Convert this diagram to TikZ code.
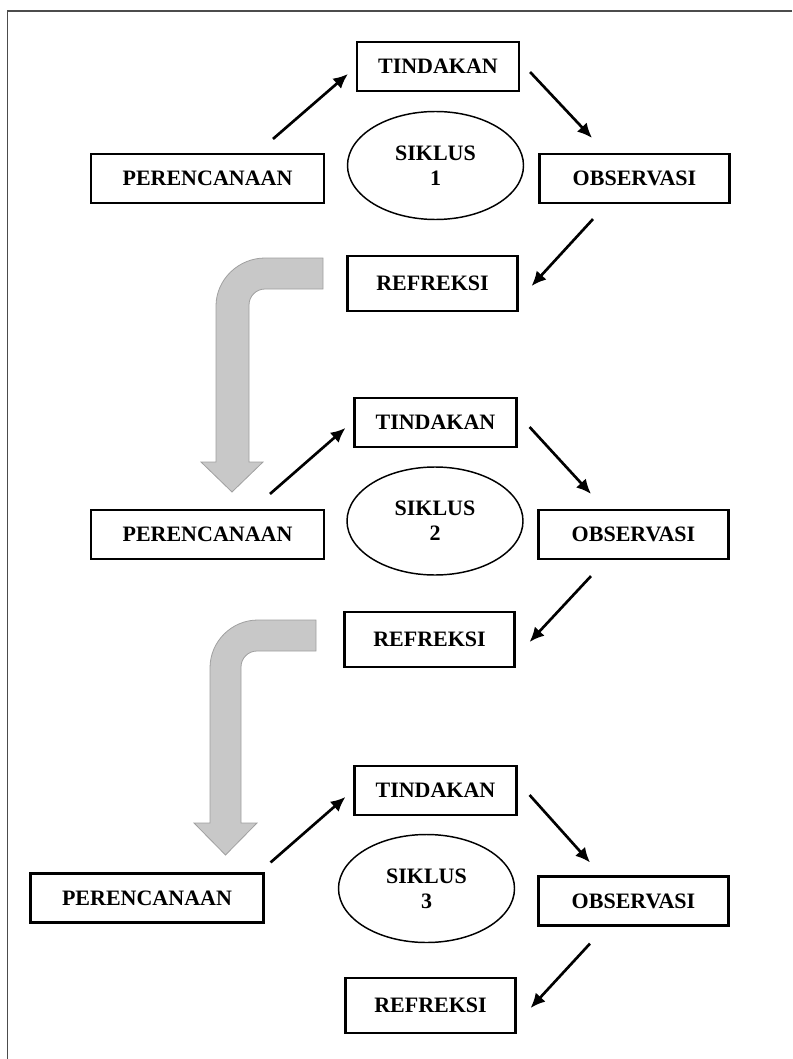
\documentclass[tikz,border=0pt]{standalone}
\usepackage{fontspec}
\setmainfont{Liberation Serif}
\usetikzlibrary{arrows.meta,shapes.geometric}

\begin{document}
\begin{tikzpicture}[x=0.75pt,y=-0.75pt,
    kotak/.style={draw, line width=1.6pt, inner sep=0pt, minimum height=36.75pt, font=\bfseries\fontsize{16.5}{19}\selectfont},
    tindakan/.style={kotak, minimum width=121.5pt},
    rencana/.style={kotak, minimum width=174.75pt},
    observasi/.style={kotak, minimum width=142.5pt},
    refleksi/.style={kotak, minimum width=127.5pt, minimum height=41.25pt},
    siklus/.style={draw, ellipse, line width=1.1pt, inner sep=0pt, minimum width=132pt, minimum height=81pt, align=center, font=\bfseries\fontsize{16.5}{19}\selectfont},
    panah/.style={line width=2pt, -{Latex[length=11pt,width=10pt]}},
    balik/.style={fill=abu, draw=abu!80!black, line width=0.6pt}]
            \definecolor{abu}{RGB}{200,200,200}
            \useasboundingbox (0,0) rectangle (792,1059);
            \draw[line width=1pt, black!70] (792,11) -- (7.5,11) -- (7.5,1059);

            \node[tindakan] (tin1) at (438,66.5) {TINDAKAN};
            \node[rencana] (per1) at (207.5,178.5) {PERENCANAAN};
            \node[observasi] (obs1) at (634.5,178.5) {OBSERVASI};
            \node[refleksi] (ref1) at (432.5,283.5) {REFREKSI};
            \node[siklus] (sik1) at (435.5,165.5) {SIKLUS\\1};
            \draw[panah] ([shift={(65.5,-14)}]per1.north) -- ([shift={(-8,7.5)}]tin1.west);
            \draw[panah] ([shift={(10,5.5)}]tin1.east) -- ([shift={(-42.5,-15)}]obs1.north);
            \draw[panah] ([shift={(-41.5,15)}]obs1.south) -- ([shift={(13,2.5)}]ref1.east);

            \draw[balik] (323,258) -- (265,258) .. controls (238.5,258) and (216,279.5) .. (216,306) -- (216,462) -- (201,462) -- (232,492) -- (263,462) -- (249,462) -- (249,305) .. controls (249,296.2) and (256.2,289) .. (265,289) -- (323,289) -- cycle;

            \node[tindakan] (tin2) at (435.5,422.5) {TINDAKAN};
            \node[rencana] (per2) at (207.5,534.5) {PERENCANAAN};
            \node[observasi] (obs2) at (633.5,534.5) {OBSERVASI};
            \node[refleksi] (ref2) at (429.5,639.5) {REFREKSI};
            \node[siklus] (sik2) at (435,521) {SIKLUS\\2};
            \draw[panah] ([shift={(62.5,-15)}]per2.north) -- ([shift={(-8,5.5)}]tin2.west);
            \draw[panah] ([shift={(12,4.5)}]tin2.east) -- ([shift={(-42.5,-15)}]obs2.north);
            \draw[panah] ([shift={(-42.5,16)}]obs2.south) -- ([shift={(14,2.5)}]ref2.east);

            \draw[balik] (316,620) -- (258,620) .. controls (231.5,620) and (210,641.5) .. (210,668) -- (210,823) -- (194,823) -- (225.5,855) -- (257,823) -- (241,823) -- (241,667) .. controls (241,658.2) and (248.2,651) .. (257,651) -- (316,651) -- cycle;

            \node[tindakan] (tin3) at (435.5,790.5) {TINDAKAN};
            \node[rencana] (per3) at (147,898) {PERENCANAAN};
            \node[observasi] (obs3) at (633.5,901) {OBSERVASI};
            \node[refleksi] (ref3) at (430.5,1005.5) {REFREKSI};
            \node[siklus] (sik3) at (426.5,888.5) {SIKLUS\\3};
            \draw[panah] ([shift={(6,-10)}]per3.north east) -- ([shift={(-8,6.5)}]tin3.west);
            \draw[panah] ([shift={(12,4.5)}]tin3.east) -- ([shift={(-43.5,-13)}]obs3.north);
            \draw[panah] ([shift={(-43.5,17)}]obs3.south) -- ([shift={(14,2.5)}]ref3.east);
        \end{tikzpicture}
\end{document}
